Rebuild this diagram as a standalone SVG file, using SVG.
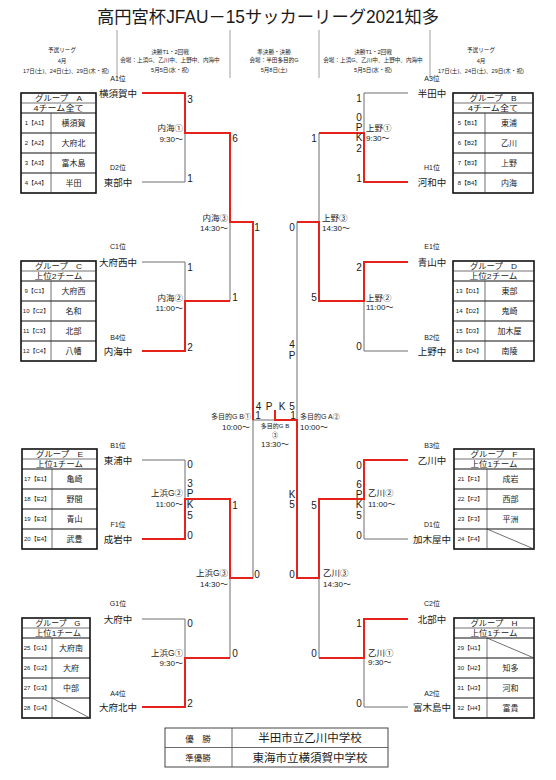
<svg xmlns="http://www.w3.org/2000/svg" width="556" height="780" viewBox="0 0 556 780">
<style>
text{font-family:"Liberation Sans","Noto Sans CJK JP",sans-serif;fill:#1a1a1a}
.ln{fill:none;stroke:#6e6e6e;stroke-width:1}
.rd{fill:none;stroke:#e5231b;stroke-width:2}
.tm{font-size:9.5px;text-anchor:middle}
.ps{font-size:7px;text-anchor:middle}
.sc{font-size:10px;text-anchor:middle}
.vn{font-size:8.5px}
.vt{font-size:8px}
.e{text-anchor:end}
.hd{font-size:5.6px;text-anchor:middle}
.tb{fill:#fff;stroke:#111;stroke-width:1.6}
.tl{fill:none;stroke:#111;stroke-width:1.2}
.ts{fill:none;stroke:#333;stroke-width:0.7}
.th{font-size:8px;text-anchor:middle}
.tn{font-size:6px;text-anchor:middle}
.tt{font-size:8px;text-anchor:middle}
.sep{stroke:#888;stroke-width:0.8}
</style>
<rect width="556" height="780" fill="#fff"/>

<g id="title">
<text x="268" y="23" font-size="17.5" text-anchor="middle" textLength="342" lengthAdjust="spacingAndGlyphs">高円宮杯JFAU－15サッカーリーグ2021知多</text>
</g>

<g id="header">
<line class="sep" x1="117" y1="30" x2="117" y2="78"/>
<line class="sep" x1="230" y1="30" x2="230" y2="78"/>
<line class="sep" x1="319" y1="30" x2="319" y2="78"/>
<line class="sep" x1="430" y1="30" x2="430" y2="78"/>
<text class="hd" x="62" y="52">予選リーグ</text>
<text class="hd" x="62" y="63">4月</text>
<text class="hd" x="66" y="73">17日(土)、24日(土)、29日(木・祝)</text>
<text class="hd" x="170" y="54">決勝T1・2回戦</text>
<text class="hd" x="170" y="62">会場：上浜G、乙川中、上野中、内海中</text>
<text class="hd" x="170" y="72">5月5日(水・祝)</text>
<text class="hd" x="274" y="54">準決勝・決勝</text>
<text class="hd" x="274" y="62">会場：半田多目的G</text>
<text class="hd" x="274" y="72">5月8日(土)</text>
<text class="hd" x="373" y="54">決勝T1・2回戦</text>
<text class="hd" x="373" y="62">会場：上浜G、乙川中、上野中、内海中</text>
<text class="hd" x="373" y="72">5月5日(水・祝)</text>
<text class="hd" x="481" y="52">予選リーグ</text>
<text class="hd" x="481" y="63">4月</text>
<text class="hd" x="481" y="73">17日(土)、24日(土)、29日(木・祝)</text>
</g>

<g id="connectors">
<path class="ln" d="M142 93H185V182H142M185 133H230M142 262H185V351H142M185 301H230M230 133V301M230 222H253M142 460H185V539H142M185 499H230M142 619H185V707H142M185 658H230M230 499V658M230 578H253M253 222V578M253 420H297"/>
<path class="ln" d="M408 93H364V182H408M364 133H319M408 262H364V351H408M364 301H319M319 133V301M319 222H297M408 460H364V539H408M364 499H319M408 619H364V707H408M364 658H319M319 499V658M319 578H297M297 222V578"/>
<path class="rd" d="M142 93H185V133H230V222H253V420"/>
<path class="rd" d="M142 351H185V301H230"/>
<path class="rd" d="M142 539H185V499H230V578H253"/>
<path class="rd" d="M142 707H185V658H230"/>
<path class="rd" d="M408 182H364V133H319"/>
<path class="rd" d="M408 262H364V301H319V222H297"/>
<path class="rd" d="M408 460H364V499H319V578H297V420H275V410"/>
<path class="rd" d="M408 619H364V658H319"/>
</g>

<g id="teams-left">
<text class="ps" x="118" y="80.5">A1位</text><text class="tm" x="118" y="96.5">横須賀中</text>
<text class="ps" x="118" y="169.5">D2位</text><text class="tm" x="118" y="185.5">東部中</text>
<text class="ps" x="118" y="248.5">C1位</text><text class="tm" x="118" y="265.5">大府西中</text>
<text class="ps" x="118" y="339.5">B4位</text><text class="tm" x="118" y="354.5">内海中</text>
<text class="ps" x="118" y="447.5">B1位</text><text class="tm" x="118" y="463.5">東浦中</text>
<text class="ps" x="118" y="526.5">F1位</text><text class="tm" x="118" y="542.5">成岩中</text>
<text class="ps" x="118" y="605.5">G1位</text><text class="tm" x="118" y="622.5">大府中</text>
<text class="ps" x="118" y="695.5">A4位</text><text class="tm" x="118" y="710.5">大府北中</text>
</g>
<g id="teams-right">
<text class="ps" x="432" y="80.5">A3位</text><text class="tm" x="432" y="96.5">半田中</text>
<text class="ps" x="432" y="169.5">H1位</text><text class="tm" x="432" y="185.5">河和中</text>
<text class="ps" x="432" y="248.5">E1位</text><text class="tm" x="432" y="265.5">青山中</text>
<text class="ps" x="432" y="339.5">B2位</text><text class="tm" x="432" y="354.5">上野中</text>
<text class="ps" x="432" y="447.5">B3位</text><text class="tm" x="432" y="463.5">乙川中</text>
<text class="ps" x="432" y="526.5">D1位</text><text class="tm" x="432" y="542.5">加木屋中</text>
<text class="ps" x="432" y="605.5">C2位</text><text class="tm" x="432" y="622.5">北部中</text>
<text class="ps" x="432" y="695.5">A2位</text><text class="tm" x="432" y="710.5">富木島中</text>
</g>

<g id="scores">
<text class="sc" x="190" y="102.5">3</text>
<text class="sc" x="190" y="181.5">1</text>
<text class="sc" x="235" y="141.5">6</text>
<text class="sc" x="190" y="270.5">1</text>
<text class="sc" x="190" y="350.5">2</text>
<text class="sc" x="235" y="300.5">1</text>
<text class="sc" x="257" y="230.5">1</text>
<text class="sc" x="190" y="467.5">0</text>
<text class="sc" x="190" y="486.5">3</text>
<text class="sc" x="190" y="496.5">P</text>
<text class="sc" x="190" y="507.5">K</text>
<text class="sc" x="190" y="518.5">5</text>
<text class="sc" x="190" y="538.5">0</text>
<text class="sc" x="235" y="508.5">1</text>
<text class="sc" x="257" y="577.5">0</text>
<text class="sc" x="190" y="626.5">0</text>
<text class="sc" x="190" y="706.5">2</text>
<text class="sc" x="235" y="656.5">0</text>
<text class="sc" x="359" y="101.5">1</text>
<text class="sc" x="359" y="120.5">0</text>
<text class="sc" x="359" y="130.5">P</text>
<text class="sc" x="359" y="140.5">K</text>
<text class="sc" x="359" y="151.5">2</text>
<text class="sc" x="359" y="181.5">1</text>
<text class="sc" x="314" y="141.5">1</text>
<text class="sc" x="292" y="230.5">0</text>
<text class="sc" x="359" y="270.5">2</text>
<text class="sc" x="359" y="349.5">0</text>
<text class="sc" x="314" y="300.5">5</text>
<text class="sc" x="292" y="347.5">4</text>
<text class="sc" x="292" y="358.5">P</text>
<text class="sc" x="292" y="497.5">K</text>
<text class="sc" x="292" y="507.5">5</text>
<text class="sc" x="359" y="468.5">0</text>
<text class="sc" x="359" y="487.5">6</text>
<text class="sc" x="359" y="497.5">P</text>
<text class="sc" x="359" y="507.5">K</text>
<text class="sc" x="359" y="518.5">5</text>
<text class="sc" x="359" y="538.5">0</text>
<text class="sc" x="314" y="508.5">5</text>
<text class="sc" x="292" y="577.5">0</text>
<text class="sc" x="359" y="626.5">1</text>
<text class="sc" x="359" y="706.5">0</text>
<text class="sc" x="314" y="656.5">0</text>
<text class="sc" x="258.5" y="409.5">4</text>
<text class="sc" x="269" y="409.5">P</text>
<text class="sc" x="282" y="409.5">K</text>
<text class="sc" x="292" y="409.5">5</text>
<text class="sc" x="258" y="419">1</text>
<text class="sc" x="293" y="419">1</text>
</g>

<g id="venues">
<text class="vn e" x="183" y="131">内海①</text><text class="vt e" x="183" y="142">9:30～</text>
<text class="vn e" x="228" y="220.5">内海③</text><text class="vt e" x="228" y="231">14:30～</text>
<text class="vn e" x="183" y="300.5">内海②</text><text class="vt e" x="183" y="310.5">11:00～</text>
<text class="vn e" x="183" y="496">上浜G②</text><text class="vt e" x="183" y="507">11:00～</text>
<text class="vn e" x="228" y="576">上浜G③</text><text class="vt e" x="228" y="587">14:30～</text>
<text class="vn e" x="183" y="656">上浜G①</text><text class="vt e" x="183" y="666">9:30～</text>
<text class="vn" x="366" y="130.5">上野①</text><text class="vt" x="366" y="140.5">9:30～</text>
<text class="vn" x="322" y="220.5">上野③</text><text class="vt" x="322" y="231">14:30～</text>
<text class="vn" x="366" y="300.5">上野②</text><text class="vt" x="366" y="309.5">11:00～</text>
<text class="vn" x="368" y="496">乙川②</text><text class="vt" x="368" y="507">11:00～</text>
<text class="vn" x="323" y="576">乙川③</text><text class="vt" x="323" y="587">14:30～</text>
<text class="vn" x="368" y="656">乙川①</text><text class="vt" x="368" y="665">9:30～</text>
<text class="e" x="251" y="418.5" font-size="7">多目的G  B①</text>
<text class="vt e" x="250" y="430">10:00～</text>
<text x="300" y="418.5" font-size="7">多目的G  A②</text>
<text class="vt" x="300" y="430">10:00～</text>
<text x="275" y="427.5" font-size="6" text-anchor="middle">多目的G  B</text>
<text x="275" y="436.5" font-size="6" text-anchor="middle">③</text>
<text class="vt" x="275" y="447" text-anchor="middle">13:30～</text>
</g>

<g id="group-a" transform="translate(21,93)">
<rect class="tb" width="75" height="100"/>
<path class="ts" d="M0 10H75"/><path class="tl" d="M0 20H75M0 40H75M0 60H75M0 80H75"/><path class="ts" d="M30 20V100"/>
<text class="th" x="37.5" y="8" textLength="47" lengthAdjust="spacingAndGlyphs">グループ　A</text>
<text class="th" x="37.5" y="18" textLength="50" lengthAdjust="spacingAndGlyphs">4チーム全て</text>
<text class="tn" x="15" y="32">1【A1】</text><text class="tt" x="52.5" y="32.8">横須賀</text>
<text class="tn" x="15" y="52">2【A2】</text><text class="tt" x="52.5" y="52.8">大府北</text>
<text class="tn" x="15" y="72">3【A3】</text><text class="tt" x="52.5" y="72.8">富木島</text>
<text class="tn" x="15" y="92">4【A4】</text><text class="tt" x="52.5" y="92.8">半田</text>
</g>
<g id="group-b" transform="translate(453,93)">
<rect class="tb" width="80" height="100"/>
<path class="ts" d="M0 10H80"/><path class="tl" d="M0 20H80M0 40H80M0 60H80M0 80H80"/><path class="ts" d="M32 20V100"/>
<text class="th" x="40" y="8" textLength="47" lengthAdjust="spacingAndGlyphs">グループ　B</text>
<text class="th" x="40" y="18" textLength="50" lengthAdjust="spacingAndGlyphs">4チーム全て</text>
<text class="tn" x="16" y="32">5【B1】</text><text class="tt" x="56" y="32.8">東浦</text>
<text class="tn" x="16" y="52">6【B2】</text><text class="tt" x="56" y="52.8">乙川</text>
<text class="tn" x="16" y="72">7【B3】</text><text class="tt" x="56" y="72.8">上野</text>
<text class="tn" x="16" y="92">8【B4】</text><text class="tt" x="56" y="92.8">内海</text>
</g>
<g id="group-c" transform="translate(21,261)">
<rect class="tb" width="75" height="100"/>
<path class="ts" d="M0 10H75"/><path class="tl" d="M0 20H75M0 40H75M0 60H75M0 80H75"/><path class="ts" d="M30 20V100"/>
<text class="th" x="37.5" y="8" textLength="47" lengthAdjust="spacingAndGlyphs">グループ　C</text>
<text class="th" x="37.5" y="18" textLength="48" lengthAdjust="spacingAndGlyphs">上位2チーム</text>
<text class="tn" x="15" y="32">9【C1】</text><text class="tt" x="52.5" y="32.8">大府西</text>
<text class="tn" x="15" y="52">10【C2】</text><text class="tt" x="52.5" y="52.8">名和</text>
<text class="tn" x="15" y="72">11【C3】</text><text class="tt" x="52.5" y="72.8">北部</text>
<text class="tn" x="15" y="92">12【C4】</text><text class="tt" x="52.5" y="92.8">八幡</text>
</g>
<g id="group-d" transform="translate(453,261)">
<rect class="tb" width="81" height="100"/>
<path class="ts" d="M0 10H81"/><path class="tl" d="M0 20H81M0 40H81M0 60H81M0 80H81"/><path class="ts" d="M32 20V100"/>
<text class="th" x="40.5" y="8" textLength="47" lengthAdjust="spacingAndGlyphs">グループ　D</text>
<text class="th" x="40.5" y="18" textLength="48" lengthAdjust="spacingAndGlyphs">上位2チーム</text>
<text class="tn" x="16" y="32">13【D1】</text><text class="tt" x="56.5" y="32.8">東部</text>
<text class="tn" x="16" y="52">14【D2】</text><text class="tt" x="56.5" y="52.8">鬼崎</text>
<text class="tn" x="16" y="72">15【D3】</text><text class="tt" x="56.5" y="72.8">加木屋</text>
<text class="tn" x="16" y="92">16【D4】</text><text class="tt" x="56.5" y="92.8">南陵</text>
</g>
<g id="group-e" transform="translate(22,449)">
<rect class="tb" width="75" height="100"/>
<path class="ts" d="M0 10H75"/><path class="tl" d="M0 20H75M0 40H75M0 60H75M0 80H75"/><path class="ts" d="M30 20V100"/>
<text class="th" x="37.5" y="8" textLength="47" lengthAdjust="spacingAndGlyphs">グループ　E</text>
<text class="th" x="37.5" y="18" textLength="47" lengthAdjust="spacingAndGlyphs">上位1チーム</text>
<text class="tn" x="15" y="32">17【E1】</text><text class="tt" x="52.5" y="32.8">亀崎</text>
<text class="tn" x="15" y="52">18【E2】</text><text class="tt" x="52.5" y="52.8">野間</text>
<text class="tn" x="15" y="72">19【E3】</text><text class="tt" x="52.5" y="72.8">青山</text>
<text class="tn" x="15" y="92">20【E4】</text><text class="tt" x="52.5" y="92.8">武豊</text>
</g>
<g id="group-f" transform="translate(454,449)">
<rect class="tb" width="80" height="100"/>
<path class="ts" d="M0 10H80"/><path class="tl" d="M0 20H80M0 40H80M0 60H80M0 80H80"/><path class="ts" d="M33 20V100M33 80L80 100"/>
<text class="th" x="40" y="8" textLength="47" lengthAdjust="spacingAndGlyphs">グループ　F</text>
<text class="th" x="40" y="18" textLength="47" lengthAdjust="spacingAndGlyphs">上位1チーム</text>
<text class="tn" x="16.5" y="32">21【F1】</text><text class="tt" x="56.5" y="32.8">成岩</text>
<text class="tn" x="16.5" y="52">22【F2】</text><text class="tt" x="56.5" y="52.8">西部</text>
<text class="tn" x="16.5" y="72">23【F3】</text><text class="tt" x="56.5" y="72.8">平洲</text>
<text class="tn" x="16.5" y="92">24【F4】</text>
</g>
<g id="group-g" transform="translate(22,618)">
<rect class="tb" width="68" height="100"/>
<path class="ts" d="M0 10H68"/><path class="tl" d="M0 20H68M0 40H68M0 60H68M0 80H68"/><path class="ts" d="M30 20V100M30 80L68 100"/>
<text class="th" x="36" y="8" textLength="45" lengthAdjust="spacingAndGlyphs">グループ　G</text>
<text class="th" x="36" y="18" textLength="46" lengthAdjust="spacingAndGlyphs">上位1チーム</text>
<text class="tn" x="15" y="32">25【G1】</text><text class="tt" x="49" y="32.8">大府南</text>
<text class="tn" x="15" y="52">26【G2】</text><text class="tt" x="49" y="52.8">大府</text>
<text class="tn" x="15" y="72">27【G3】</text><text class="tt" x="49" y="72.8">中部</text>
<text class="tn" x="15" y="92">28【G4】</text>
</g>
<g id="group-h" transform="translate(454,618)">
<rect class="tb" width="80" height="100"/>
<path class="ts" d="M0 10H80"/><path class="tl" d="M0 20H80M0 40H80M0 60H80M0 80H80"/><path class="ts" d="M33 20V100M33 20L80 40"/>
<text class="th" x="40" y="8" textLength="47" lengthAdjust="spacingAndGlyphs">グループ　H</text>
<text class="th" x="40" y="18" textLength="47" lengthAdjust="spacingAndGlyphs">上位1チーム</text>
<text class="tn" x="16.5" y="32">29【H1】</text>
<text class="tn" x="16.5" y="52">30【H2】</text><text class="tt" x="56.5" y="52.8">知多</text>
<text class="tn" x="16.5" y="72">31【H3】</text><text class="tt" x="56.5" y="72.8">河和</text>
<text class="tn" x="16.5" y="92">32【H4】</text><text class="tt" x="56.5" y="92.8">富貴</text>
</g>

<g id="results">
<rect x="165" y="728" width="223" height="39" fill="none" stroke="#444" stroke-width="1"/>
<path d="M165 747.5H388M232 728V767" fill="none" stroke="#444" stroke-width="0.8"/>
<text x="198" y="741.5" font-size="8.5" text-anchor="middle">優　勝</text>
<text x="198" y="761" font-size="8.5" text-anchor="middle">準優勝</text>
<text x="310" y="742" font-size="11.5" text-anchor="middle">半田市立乙川中学校</text>
<text x="310" y="761.5" font-size="11.5" text-anchor="middle">東海市立横須賀中学校</text>
</g>
</svg>
